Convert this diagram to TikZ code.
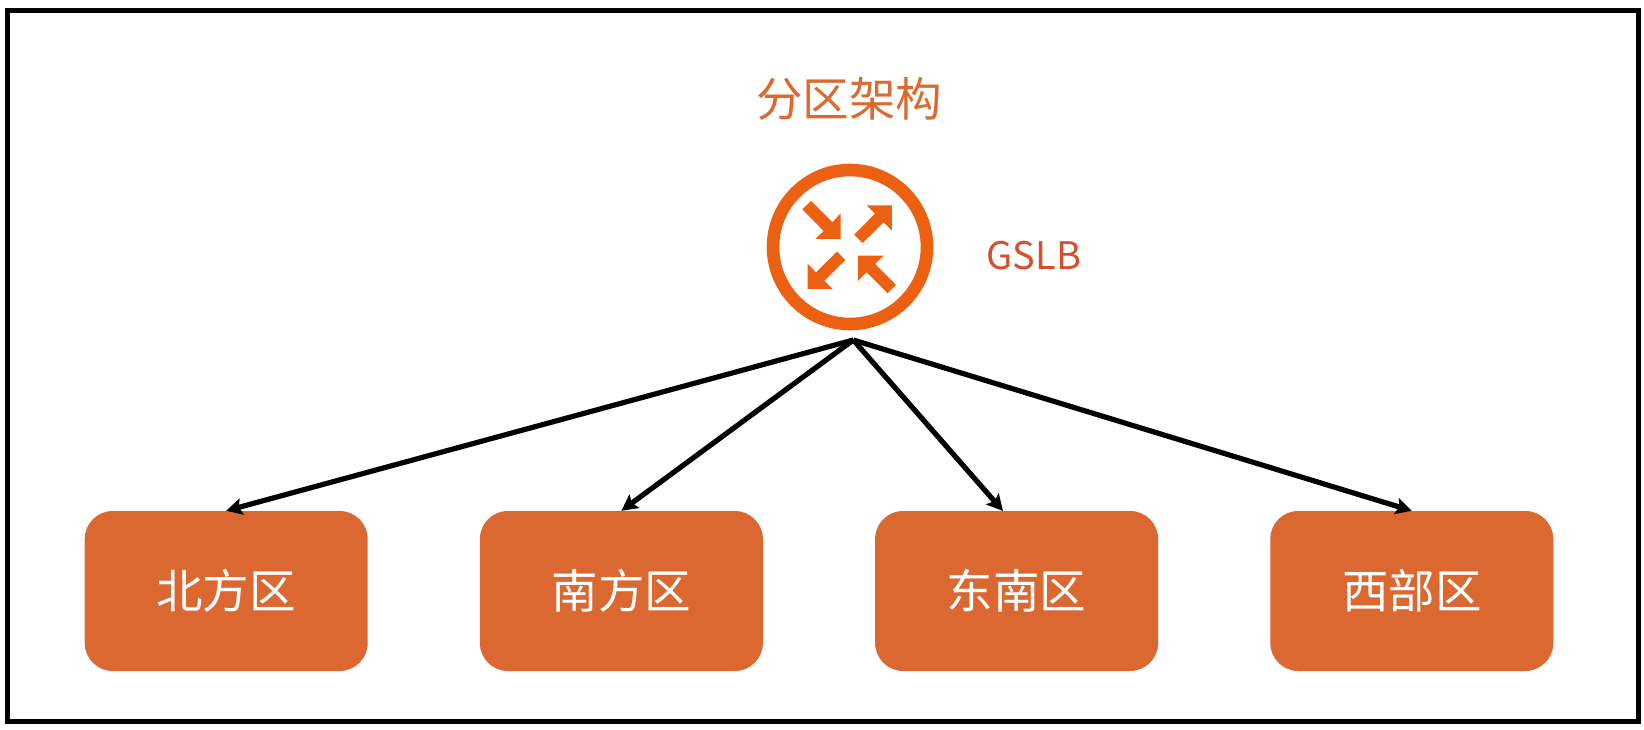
\documentclass[tikz,border=0pt]{standalone}
\usepackage{fontspec}
\setmainfont{Noto Sans CJK SC}
\usetikzlibrary{arrows.meta}
\definecolor{boxfill}{HTML}{DB6830}
\definecolor{iconc}{HTML}{EC6011}
\definecolor{gslbc}{HTML}{D2502E}
\definecolor{titlec}{HTML}{DC6A30}
\tikzset{
  region/.style={fill=boxfill,rounded corners=28pt,minimum width=283pt,minimum height=160pt,inner sep=0pt,text=white,font=\fontsize{46.5}{46.5}\selectfont},
  link/.style={draw=black,line width=5.2pt,-{Stealth[length=16pt,width=16.5pt,inset=3pt]}},
  icn/.style={fill=iconc,draw=none},
}
\begin{document}
\begin{tikzpicture}[x=1pt,y=-1pt]
\useasboundingbox (0,0) rectangle (1644,730);
\fill[white] (0,0) rectangle (1644,730);
\node[draw=black,line width=4.8pt,minimum width=1631.4pt,minimum height=711pt,inner sep=0pt] (frame) at (823,365.8) {};
\node[text=titlec,font=\fontsize{46.5}{46.5}\selectfont,inner sep=0pt] (title) at (849,99) {分区架构};
\node[draw=iconc,line width=12.6pt,circle,minimum size=154pt,inner sep=0pt] (lb) at (850,247) {};
\node[text=gslbc,font=\fontsize{38}{38}\selectfont,inner sep=0pt] (gslb) at (1034,256) {GSLB};
\begin{scope}[shift={(740,150)},x=0.3333pt,y=-0.3333pt]
\fill[icn] (187,178)--(213,153)--(277,217)--(302,190)--(302,267)--(226,267)--(251,243)--cycle;
\fill[icn] (343,254)--(405,191)--(380,166)--(456,166)--(456,242)--(431,217)--(368,279)--cycle;
\fill[icn] (291,305)--(316,330)--(253,392)--(278,417)--(203,417)--(203,341)--(228,367)--cycle;
\fill[icn] (468,405)--(443,430)--(380,367)--(354,393)--(354,317)--(431,317)--(405,342)--cycle;
\end{scope}
\node[region] (north) at (226.2,591) {北方区};
\node[region] (south) at (621.4,591) {南方区};
\node[region] (southeast) at (1016.6,591) {东南区};
\node[region] (west) at (1411.8,591) {西部区};
\coordinate (apex) at (853.3,340);
\coordinate (setip) at (1003,511);
\draw[link] (apex) -- (north.north);
\draw[link] (apex) -- (south.north);
\draw[link] (apex) -- (setip);
\draw[link] (apex) -- (west.north);
\end{tikzpicture}
\end{document}
